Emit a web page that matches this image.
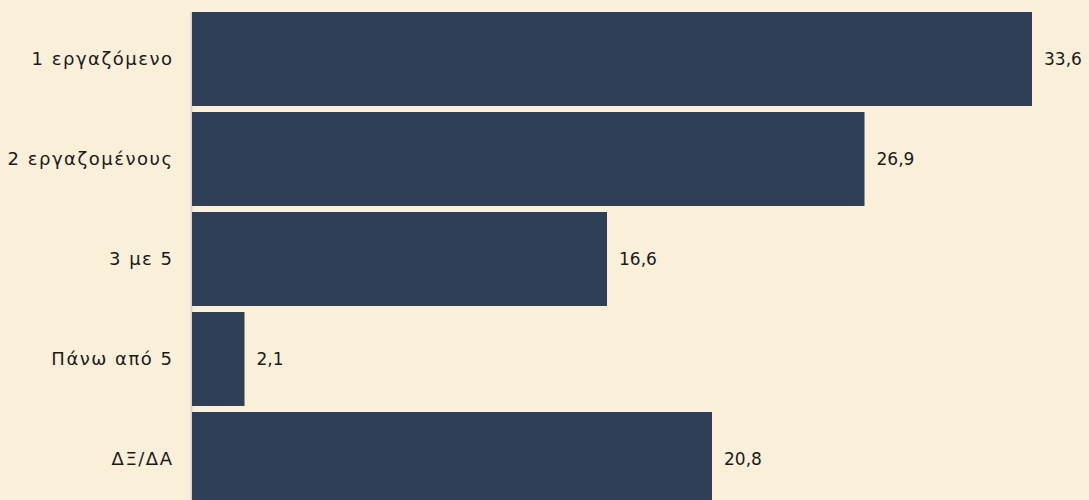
<!DOCTYPE html>
<html>
<head>
<meta charset="utf-8">
<script src="https://cdn.jsdelivr.net/npm/d3@7"></script>
<style>
  html, body { margin: 0; padding: 0; background: #faf0da; }
  svg { display: block; }
</style>
</head>
<body>
<div id="chart"></div>
<script>
const categories = ["1 εργαζόμενο", "2 εργαζομένους", "3 με 5", "Πάνω από 5", "ΔΞ/ΔΑ"];
const values = [33.6, 26.9, 16.6, 2.1, 20.8];

const width = 1089;
const height = 500;
const margin = { top: 9, right: 57, bottom: 0, left: 192 };
const fmt = (v) => v.toFixed(1).replace(".", ",");

const data = categories.map((c, i) => ({ label: c, value: values[i] }));

const x = d3
  .scaleLinear()
  .domain([0, 33.6])
  .range([margin.left, width - margin.right]);

const y = d3
  .scaleBand()
  .domain(categories)
  .range([margin.top, margin.top + 500])
  .paddingInner(0.06)
  .paddingOuter(0.03);

const svg = d3
  .select("#chart")
  .append("svg")
  .attr("width", width)
  .attr("height", height)
  .style("font-family", "'DejaVu Sans', sans-serif");

svg
  .append("rect")
  .attr("width", width)
  .attr("height", height)
  .attr("fill", "#faf0da");

// axis line
svg
  .append("line")
  .attr("x1", margin.left - 0.5)
  .attr("x2", margin.left - 0.5)
  .attr("y1", y(categories[0]))
  .attr("y2", height)
  .attr("stroke", "#d9d4c8")
  .attr("stroke-width", 2);

svg
  .selectAll("rect.bar")
  .data(data)
  .join("rect")
  .attr("class", "bar")
  .attr("x", x(0))
  .attr("y", (d) => y(d.label))
  .attr("width", (d) => x(d.value) - x(0))
  .attr("height", y.bandwidth())
  .attr("fill", "#2f3f58");

// category labels (letter-spaced, trailing spacing offset)
svg
  .selectAll("text.cat")
  .data(data)
  .join("text")
  .attr("class", "cat")
  .attr("x", margin.left - 18.5)
  .attr("y", (d) => y(d.label) + y.bandwidth() / 2)
  .attr("dy", "0.35em")
  .attr("text-anchor", "end")
  .attr("font-size", "18px")
  .attr("letter-spacing", "1.5px")
  .attr("fill", "#1a1a1a")
  .text((d) => d.label);

svg
  .selectAll("text.val")
  .data(data)
  .join("text")
  .attr("class", "val")
  .attr("x", (d) => x(d.value) + 12)
  .attr("y", (d) => y(d.label) + y.bandwidth() / 2)
  .attr("dy", "0.35em")
  .attr("font-size", "17px")
  .attr("fill", "#1a1a1a")
  .text((d) => fmt(d.value));
</script>
</body>
</html>
